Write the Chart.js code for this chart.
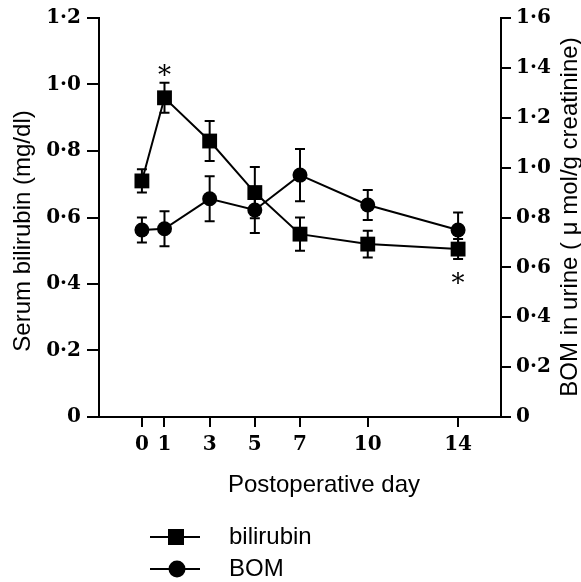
<!DOCTYPE html>
<html>
<head>
<meta charset="utf-8">
<script src="https://cdn.jsdelivr.net/npm/chart.js@4/dist/chart.umd.min.js"></script>
<style>
    html, body { margin: 0; padding: 0; background: #fff; }
    canvas { display: block; }
</style>
</head>
<body>
<canvas id="chart" width="581" height="582"></canvas>
<script>
// Postoperative days (x categories)
const days = [0, 1, 3, 5, 7, 10, 14];

// serum bilirubin (mg/dl), mean and error
const bilirubin = [0.71, 0.96, 0.83, 0.675, 0.55, 0.52, 0.505];
const bilirubinErr = [0.035, 0.045, 0.06, 0.077, 0.05, 0.04, 0.03];

// BOM in urine (umol/g creatinine), mean and error
const bom = [0.75, 0.755, 0.875, 0.83, 0.97, 0.85, 0.75];
const bomErr = [0.05, 0.07, 0.09, 0.092, 0.105, 0.06, 0.07];

// tick labels
const xTicks = [0, 1, 3, 5, 7, 10, 14];
const leftTicks = [0, 0.2, 0.4, 0.6, 0.8, 1.0, 1.2];
const rightTicks = [0, 0.2, 0.4, 0.6, 0.8, 1.0, 1.2, 1.4, 1.6];

// significance marks on the bilirubin series
const sigDays = [1, 14];
const sigSide = ['above', 'below'];

const SERIF = "'DejaVu Serif', 'Liberation Serif', serif";
const SANS = "'Liberation Sans', Arial, sans-serif";
const tickFont = { family: SERIF, size: 20, weight: 'bold' };

const fmtTick = v => v === 0 ? '0' : v.toFixed(1).replace('.', '·');

// error bars with caps
const errorBars = {
    id: 'errorBars',
    afterDatasetsDraw(chart) {
        const ctx = chart.ctx;
        ctx.save();
        ctx.strokeStyle = '#000';
        ctx.lineWidth = 2;
        chart.data.datasets.forEach(ds => {
            const ys = chart.scales[ds.yAxisID];
            const xs = chart.scales.x;
            ds.data.forEach((p, i) => {
                const e = ds.errors[i];
                const x = xs.getPixelForValue(p.x);
                const y1 = ys.getPixelForValue(p.y + e);
                const y2 = ys.getPixelForValue(p.y - e);
                ctx.beginPath();
                ctx.moveTo(x, y1); ctx.lineTo(x, y2);
                ctx.moveTo(x - 5, y1); ctx.lineTo(x + 5, y1);
                ctx.moveTo(x - 5, y2); ctx.lineTo(x + 5, y2);
                ctx.stroke();
            });
        });
        ctx.restore();
    }
};

// asterisks, axis titles and the legend underneath
const extras = {
    id: 'extras',
    afterDraw(chart) {
        const ctx = chart.ctx;
        const xs = chart.scales.x, ys = chart.scales.y;
        ctx.save();
        ctx.fillStyle = '#000';

        // asterisks
        ctx.font = '26px ' + SERIF;
        ctx.textAlign = 'center';
        ctx.textBaseline = 'alphabetic';
        sigDays.forEach((d, k) => {
            const i = days.indexOf(d);
            const x = xs.getPixelForValue(d);
            let cy;
            if (sigSide[k] === 'above') cy = ys.getPixelForValue(bilirubin[i] + bilirubinErr[i]) - 15;
            else cy = ys.getPixelForValue(bilirubin[i] - bilirubinErr[i]) + 17;
            ctx.fillText('*', x, cy + 16);
        });

        // axis titles
        ctx.font = '24px ' + SANS;
        ctx.textBaseline = 'middle';
        ctx.fillText('Postoperative day', 324, 485);

        ctx.save();
        ctx.translate(23, 231);
        ctx.rotate(-Math.PI / 2);
        ctx.fillText('Serum bilirubin (mg/dl)', 0, 0);
        ctx.restore();

        ctx.save();
        ctx.translate(570, 217);
        ctx.rotate(-Math.PI / 2);
        ctx.fillText('BOM in urine ( μ mol/g creatinine)', 0, 0);
        ctx.restore();

        // legend
        const rows = [537, 569];
        chart.data.datasets.forEach((ds, di) => {
            const y = rows[di];
            ctx.strokeStyle = '#000';
            ctx.lineWidth = 2;
            ctx.beginPath();
            ctx.moveTo(150, y); ctx.lineTo(200, y);
            ctx.stroke();
            if (ds.pointStyle === 'rect') {
                ctx.fillRect(176 - 8, y - 8, 16, 16);
            } else {
                ctx.beginPath();
                ctx.arc(177, y, 8.5, 0, Math.PI * 2);
                ctx.fill();
            }
            ctx.textAlign = 'left';
            ctx.fillText(ds.label, 229, y);
        });
        ctx.restore();
    }
};

new Chart(document.getElementById('chart'), {
    type: 'line',
    data: {
        datasets: [{
            label: 'bilirubin',
            data: days.map((d, i) => ({ x: d, y: bilirubin[i] })),
            errors: bilirubinErr,
            yAxisID: 'y',
            borderColor: '#000',
            backgroundColor: '#000',
            borderWidth: 2,
            pointStyle: 'rect',
            pointRadius: 10.5,
            pointBorderWidth: 0,
            tension: 0,
        }, {
            label: 'BOM',
            data: days.map((d, i) => ({ x: d, y: bom[i] })),
            errors: bomErr,
            yAxisID: 'y2',
            borderColor: '#000',
            backgroundColor: '#000',
            borderWidth: 2,
            pointStyle: 'circle',
            pointRadius: 7.5,
            pointBorderWidth: 0,
            tension: 0,
        }]
    },
    options: {
        responsive: false,
        animation: false,
        layout: { padding: { top: 15, left: 0, right: 0, bottom: 0 } },
        plugins: {
            legend: { display: false },
            tooltip: { enabled: false }
        },
        scales: {
            x: {
                type: 'linear',
                min: -1.9,
                max: 15.9,
                afterBuildTicks: s => { s.ticks = xTicks.map(v => ({ value: v })); },
                afterFit: s => { s.height = 165; },
                grid: { drawOnChartArea: false, tickLength: 10, color: '#000', lineWidth: 2 },
                border: { color: '#000', width: 2 },
                ticks: {
                    color: '#000',
                    autoSkip: false,
                    maxRotation: 0,
                    padding: 6,
                    font: tickFont,
                    callback: v => String(v)
                }
            },
            y: {
                position: 'left',
                min: 0,
                max: 1.2,
                afterBuildTicks: s => { s.ticks = leftTicks.map(v => ({ value: v })); },
                afterFit: s => { s.width = 99; },
                grid: { drawOnChartArea: false, tickLength: 12, color: '#000', lineWidth: 2 },
                border: { color: '#000', width: 2 },
                ticks: {
                    color: '#000',
                    padding: 6,
                    font: tickFont,
                    callback: v => fmtTick(v)
                }
            },
            y2: {
                position: 'right',
                min: 0,
                max: 1.6,
                afterBuildTicks: s => { s.ticks = rightTicks.map(v => ({ value: v })); },
                afterFit: s => { s.width = 80; },
                grid: { drawOnChartArea: false, tickLength: 10, color: '#000', lineWidth: 2 },
                border: { color: '#000', width: 2 },
                ticks: {
                    color: '#000',
                    padding: 5,
                    font: tickFont,
                    callback: v => fmtTick(v)
                }
            }
        }
    },
    plugins: [errorBars, extras]
});
</script>
</body>
</html>
